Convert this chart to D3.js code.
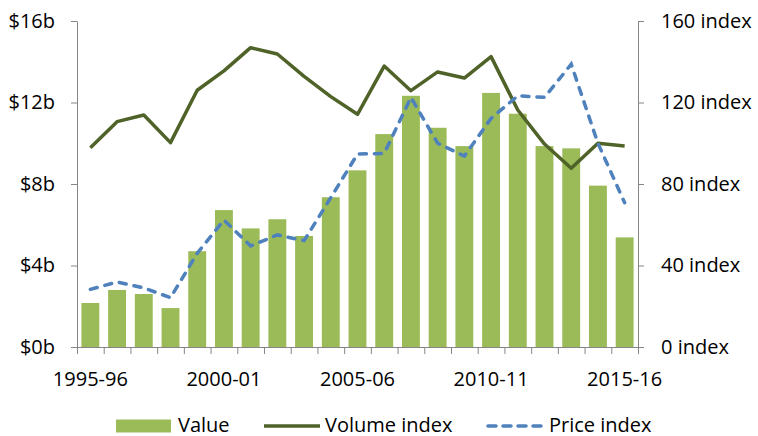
<!DOCTYPE html>
<html>
<head>
<meta charset="utf-8">
<script src="https://cdn.jsdelivr.net/npm/d3@7"></script>
<style>
  body { margin: 0; background: #fff; }
  text { font-family: "Open Sans", sans-serif; font-size: 20px; fill: #000; }
</style>
</head>
<body>
<div id="container"></div>
<script>
const years = ['1995-96', '1996-97', '1997-98', '1998-99', '1999-00', '2000-01', '2001-02',
  '2002-03', '2003-04', '2004-05', '2005-06', '2006-07', '2007-08', '2008-09', '2009-10',
  '2010-11', '2011-12', '2012-13', '2013-14', '2014-15', '2015-16'];
const value = [2.16, 2.8, 2.6, 1.91, 4.7, 6.72, 5.82, 6.27, 5.45, 7.35, 8.67, 10.45,
  12.33, 10.76, 9.86, 12.47, 11.45, 9.86, 9.75, 7.92, 5.38];
const volume = [97.8, 110.6, 113.9, 100.3, 126, 135.5, 146.9, 143.8, 132.8, 122.9, 114.2, 137.9,
  125.8, 135, 132, 142.5, 116.3, 99.6, 87.7, 100, 98.7];
const price = [28.3, 31.9, 29, 24.2, 46, 62.3, 49.6, 55, 52.2, 73.3, 94.7, 95,
  122.5, 100, 93.7, 112.2, 123.3, 122.5, 138.8, 100, 70.8];
const leftTicks = [0, 4, 8, 12, 16];
const rightTicks = [0, 40, 80, 120, 160];
const shownYears = ['1995-96', '2000-01', '2005-06', '2010-11', '2015-16'];

const w = 758;
const h = 436;
const m = { top: 21, right: 120, bottom: 89, left: 77 };

const svg = d3.select('#container')
  .append('svg')
  .attr('width', w)
  .attr('height', h)
  .attr('viewBox', [0, 0, w, h]);

const x = d3.scaleBand()
  .domain(years)
  .range([m.left, w - m.right])
  .paddingInner(0.33)
  .paddingOuter(0.165);

// plain index scale so ticks sit between the bars
const xi = d3.scaleLinear()
  .domain([0, years.length])
  .range([m.left, w - m.right]);

const yL = d3.scaleLinear().domain([0, 16]).range([h - m.bottom, m.top]);
const yR = d3.scaleLinear().domain([0, 160]).range([h - m.bottom, m.top]);

const axisColor = '#868686';

const styleAxis = g => {
  g.selectAll('path, line').attr('stroke', axisColor);
  g.selectAll('text').style('font-family', '"Open Sans", sans-serif').style('font-size', '20px').attr('fill', '#000');
};

svg.append('g')
  .attr('transform', 'translate(' + m.left + ',0)')
  .call(d3.axisLeft(yL).tickValues(leftTicks).tickSize(6).tickSizeOuter(0).tickPadding(16)
    .tickFormat(d => '$' + d + 'b'))
  .call(styleAxis);

svg.append('g')
  .attr('transform', 'translate(' + (w - m.right) + ',0)')
  .call(d3.axisRight(yR).tickValues(rightTicks).tickSize(6).tickSizeOuter(0).tickPadding(17)
    .tickFormat(d => d + ' index'))
  .call(styleAxis);

svg.selectAll('rect.bar')
  .data(value)
  .enter()
  .append('rect')
  .attr('class', 'bar')
  .attr('x', (d, i) => x(years[i]))
  .attr('y', d => yL(d))
  .attr('width', x.bandwidth())
  .attr('height', d => yL(0) - yL(d))
  .attr('fill', '#9bbb59');

svg.append('g')
  .attr('transform', 'translate(0,' + (h - m.bottom) + ')')
  .call(d3.axisBottom(xi).tickValues(d3.range(years.length + 1)).tickSize(7).tickSizeOuter(0)
    .tickFormat(''))
  .call(styleAxis);

svg.append('g')
  .attr('transform', 'translate(0,' + (h - m.bottom) + ')')
  .call(d3.axisBottom(x).tickValues(shownYears).tickSize(0).tickPadding(25))
  .call(g => g.select('.domain').remove())
  .call(styleAxis);

const cx = i => x(years[i]) + x.bandwidth() / 2;

svg.append('path')
  .datum(volume)
  .attr('fill', 'none')
  .attr('stroke', '#4f6228')
  .attr('stroke-width', 3.5)
  .attr('stroke-linejoin', 'round')
  .attr('d', d3.line().x((d, i) => cx(i)).y(d => yR(d)));

svg.append('path')
  .datum(price)
  .attr('fill', 'none')
  .attr('stroke', '#4f81bd')
  .attr('stroke-width', 3.5)
  .attr('stroke-linecap', 'round')
  .attr('stroke-dasharray', '7,8')
  .attr('d', d3.line().x((d, i) => cx(i)).y(d => yR(d)));

// legend
const ly = 426;
const ty = 424.5;
const legend = svg.append('g');

legend.append('rect')
  .attr('x', 116).attr('y', ly - 6.5)
  .attr('width', 55).attr('height', 13)
  .attr('fill', '#9bbb59');
legend.append('text').attr('x', 178).attr('y', ty).attr('dy', '0.35em').text('Value');

legend.append('line')
  .attr('x1', 264).attr('x2', 320).attr('y1', ly).attr('y2', ly)
  .attr('stroke', '#4f6228').attr('stroke-width', 3.5);
legend.append('text').attr('x', 325).attr('y', ty).attr('dy', '0.35em').text('Volume index');

legend.append('line')
  .attr('x1', 488).attr('x2', 543).attr('y1', ly).attr('y2', ly)
  .attr('stroke', '#4f81bd').attr('stroke-width', 3.5)
  .attr('stroke-linecap', 'round').attr('stroke-dasharray', '8,7');
legend.append('text').attr('x', 549).attr('y', ty).attr('dy', '0.35em').text('Price index');
</script>
</body>
</html>
